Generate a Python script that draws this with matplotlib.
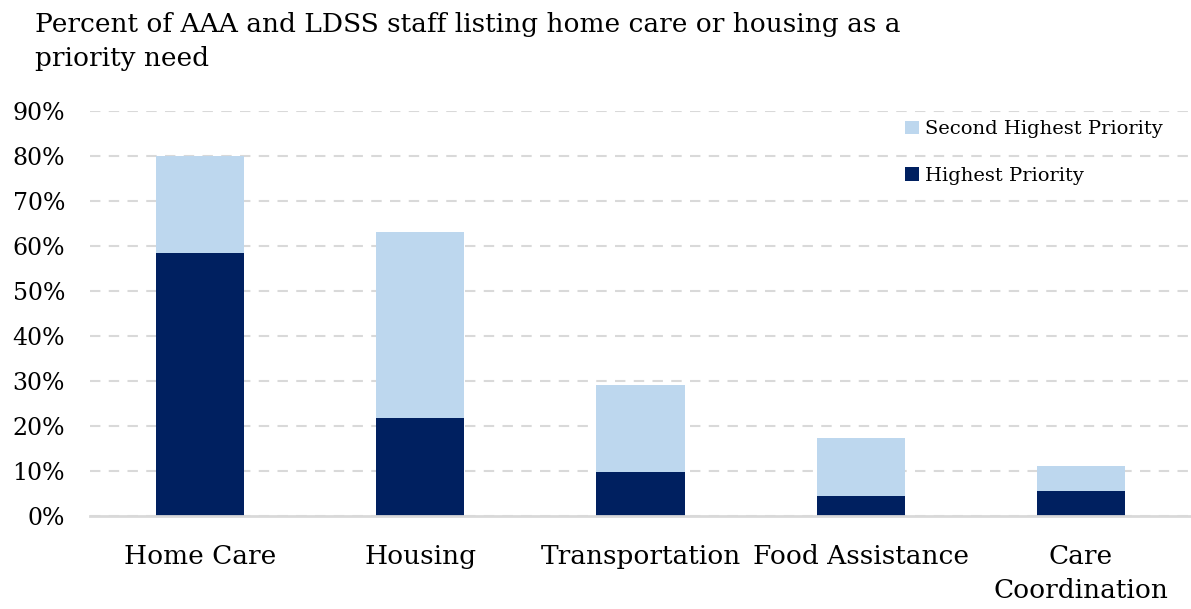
import matplotlib.pyplot as plt
from matplotlib.ticker import PercentFormatter

categories = ["Home Care", "Housing", "Transportation", "Food Assistance", "Care\nCoordination"]
highest = [58.4, 21.8, 9.8, 4.5, 5.5]
second_highest = [21.6, 41.3, 19.3, 12.8, 5.7]
y_ticks = [0, 10, 20, 30, 40, 50, 60, 70, 80, 90]

dark = "#002060"
light = "#BDD7EE"
grid_col = "#D9D9D9"

plt.rcParams["font.family"] = ["DejaVu Serif"]

fig = plt.figure(figsize=(11.91, 6.09), dpi=100)
ax = fig.add_axes([90 / 1191, 1 - 516 / 609, 1 - 90 / 1191, 405 / 609])

x = range(len(categories))
ax.bar(x, highest, width=0.4, color=dark, label="Highest Priority", zorder=3)
ax.bar(x, second_highest, width=0.4, bottom=highest, color=light,
       label="Second Highest Priority", zorder=3)

ax.set_xlim(-0.5, 4.5)
ax.set_ylim(0, 90)
ax.set_yticks(y_ticks)
ax.yaxis.set_major_formatter(PercentFormatter(decimals=0))
ax.set_xticks(list(x))
ax.set_xticklabels(categories, fontsize=19, linespacing=1.45)
ax.tick_params(axis="y", labelsize=17, length=0, pad=18)
ax.tick_params(axis="x", length=0, pad=20)

ax.grid(axis="y", color=grid_col, linestyle=(0, (5, 4)), linewidth=1.5, zorder=0)
for side in ["top", "right", "left"]:
    ax.spines[side].set_visible(False)
ax.spines["bottom"].set_color(grid_col)
ax.spines["bottom"].set_linewidth(2)
ax.spines["bottom"].set_zorder(4)

handles, labels = ax.get_legend_handles_labels()
ax.legend(handles[::-1], labels[::-1], loc="upper right", bbox_to_anchor=(0.99, 1.02),
          frameon=False, fontsize=14, handlelength=0.7, handleheight=0.7,
          handletextpad=0.3, labelspacing=1.45)

fig.text(35 / 1191, 1 - 12 / 609,
         "Percent of AAA and LDSS staff listing home care or housing as a\npriority need",
         fontsize=19, va="top", ha="left", linespacing=1.45)

fig.savefig("out.png", dpi=100)
